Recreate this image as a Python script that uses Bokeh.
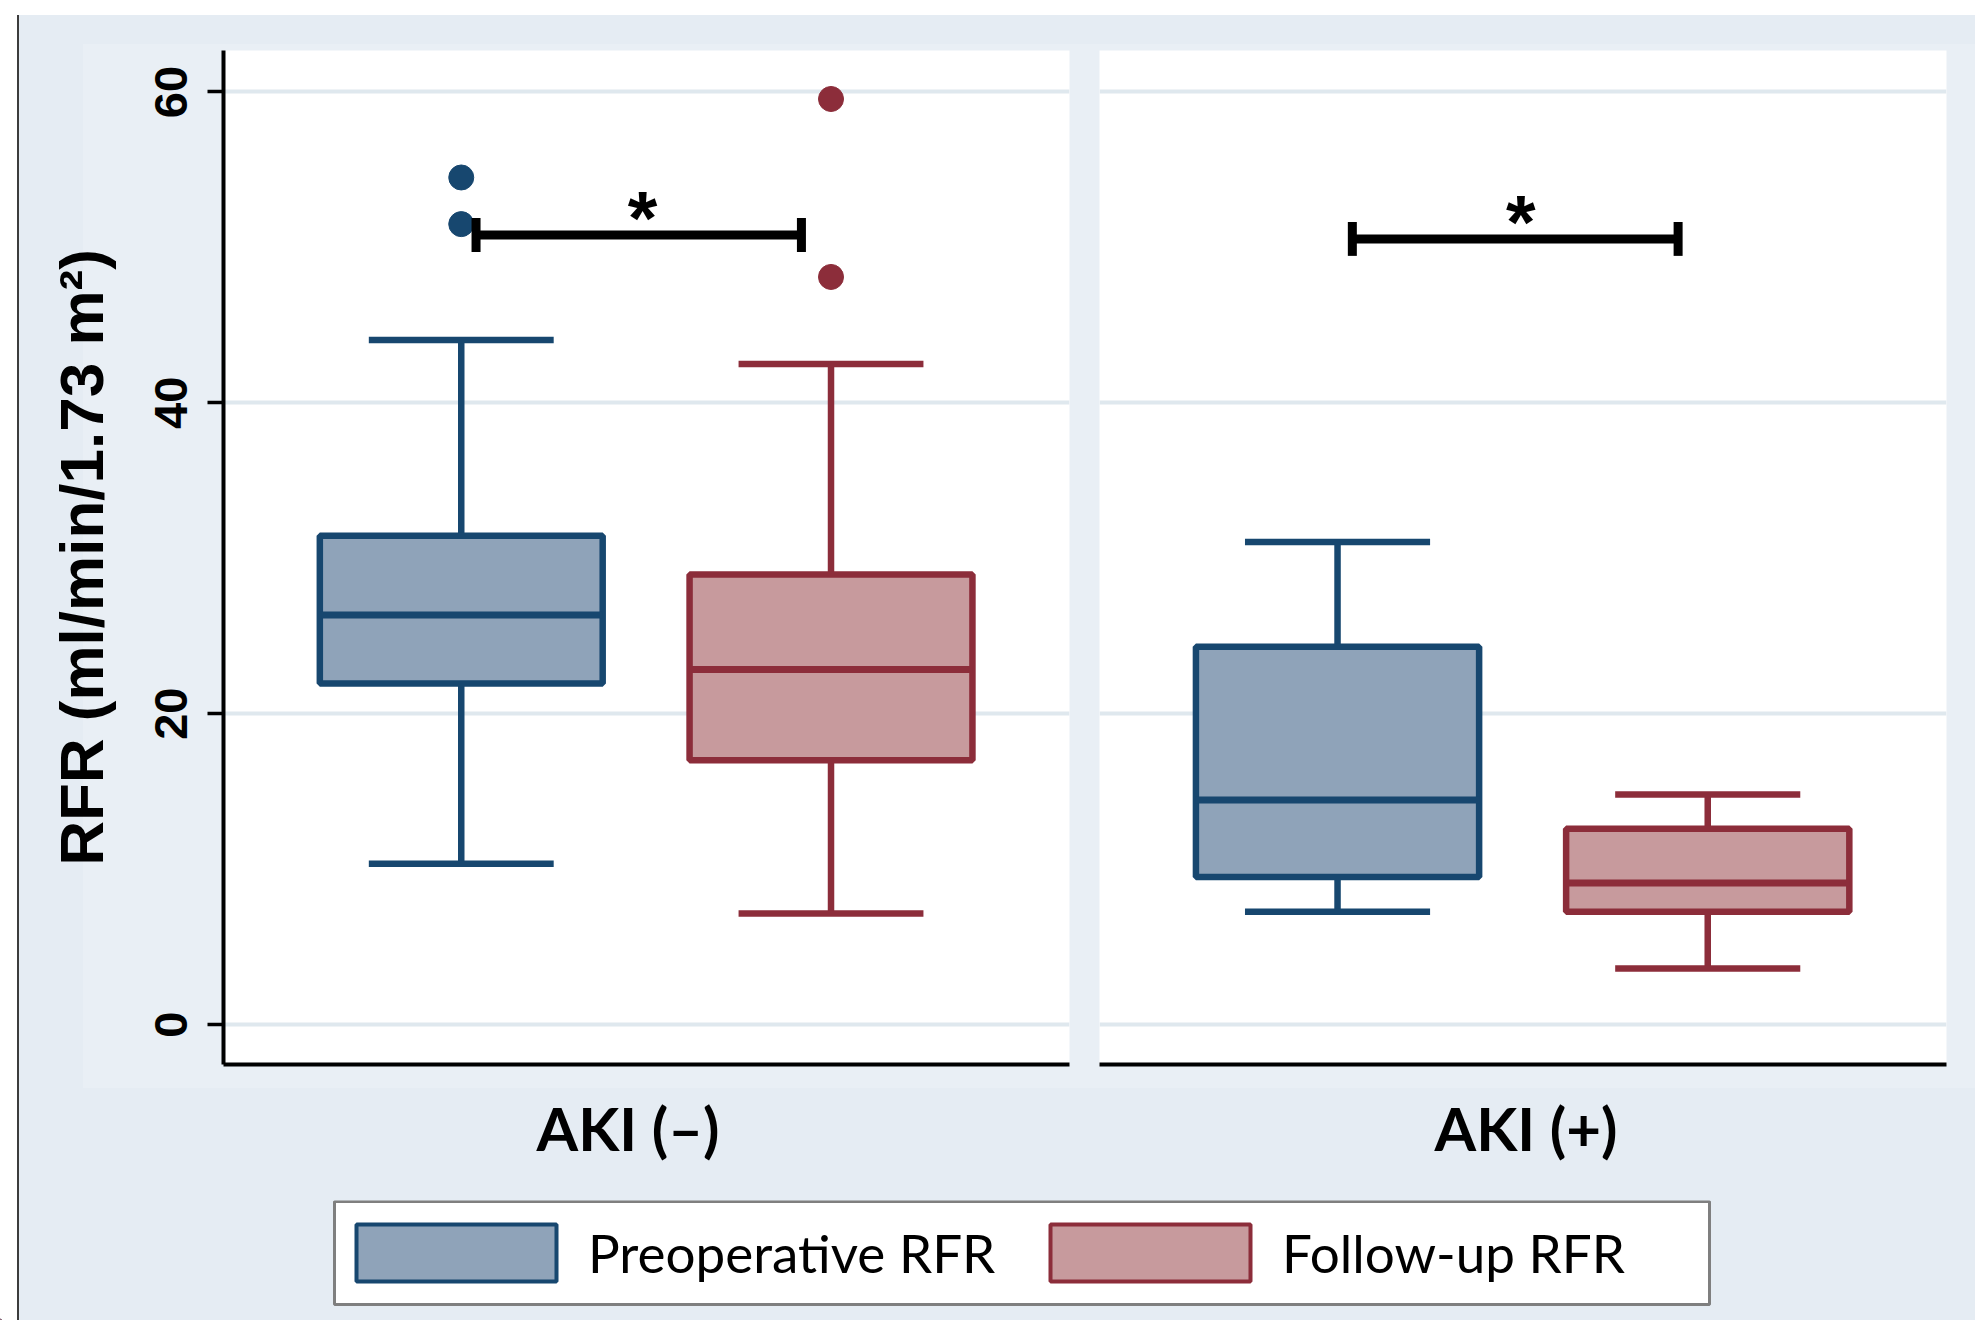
from math import pi
from bokeh.plotting import figure
from bokeh.models import (ColumnDataSource, Range1d, FixedTicker, Legend, LegendItem,
                          Title, BoxAnnotation)
from bokeh.layouts import row, column
from bokeh.core.properties import value
from bokeh.embed import file_html
from bokeh.resources import INLINE

# ---------------- data ----------------
groups = ["AKI (–)", "AKI (+)"]
series = ["Preoperative RFR", "Follow-up RFR"]
positions = [0, 1]            # Preoperative, Follow-up inside each panel

pre_lower  = [10.35, 7.25]
pre_q1     = [21.95, 9.5]
pre_median = [26.35, 14.45]
pre_q3     = [31.45, 24.3]
pre_upper  = [44.05, 31.05]
pre_outliers = [[54.5, 51.5], []]

fu_lower  = [7.15, 3.6]
fu_q1     = [17.0, 7.25]
fu_median = [22.85, 9.1]
fu_q3     = [28.95, 12.6]
fu_upper  = [42.5, 14.8]
fu_outliers = [[59.55, 48.1], []]

sig_left  = [0.04, 0.04]
sig_right = [0.92, 0.92]
sig_y     = [50.8, 50.55]
sig_mid   = [0.49, 0.495]
sig_text  = ["*", "*"]

y_ticks = [0, 20, 40, 60]
y_label = "RFR (ml/min/1.73 m²)"

# ---------------- style ----------------
PRE_FILL, PRE_LINE = "#8fa3b9", "#17476f"
FU_FILL, FU_LINE = "#c79a9d", "#8c2d3a"
BG_OUT = "#e5ecf3"
BG_IN = "#e9eff5"
GRID = "#dfe8ee"
BOX_W = 0.765
CAP_W = 0.50
LW = 6.5
X_LO, X_HI = -0.643, 1.645
Y_LO, Y_HI = -2.57, 62.67
GROUP_OFFSET = [313, 335]


def make_panel(i, left):
    kw = dict(frame_width=846 if left else 847, frame_height=1014,
              min_border_top=50, min_border_bottom=136,
              x_range=Range1d(X_LO, X_HI), y_range=Range1d(Y_LO, Y_HI),
              output_backend="svg", toolbar_location=None, tools="")
    if left:
        p = figure(min_border_left=223, min_border_right=15, **kw)
    else:
        p = figure(min_border_left=15, min_border_right=29, y_axis_location=None, **kw)
    p.background_fill_color = "white"
    p.border_fill_alpha = 0
    p.outline_line_color = None

    p.xgrid.visible = False
    p.ygrid.ticker = FixedTicker(ticks=y_ticks)
    p.ygrid.grid_line_color = GRID
    p.ygrid.grid_line_width = 4

    xa = p.xaxis[0]
    xa.ticker = FixedTicker(ticks=[])
    xa.axis_line_color = "black"
    xa.axis_line_width = 4
    xa.major_tick_line_color = None
    xa.minor_tick_line_color = None
    xa.major_label_text_font_size = "0px"

    p.add_layout(Title(text=groups[i], align="left", offset=GROUP_OFFSET[i],
                       text_font="Lato", text_font_style="bold",
                       text_font_size="60px", text_color="black", standoff=51), "below")

    if left:
        ya = p.yaxis[0]
        ya.ticker = FixedTicker(ticks=y_ticks)
        ya.axis_line_color = "black"
        ya.axis_line_width = 4
        ya.major_tick_line_color = "black"
        ya.major_tick_line_width = 3.5
        ya.major_tick_out = 16
        ya.major_tick_in = 0
        ya.minor_tick_line_color = None
        ya.major_label_orientation = "vertical"
        ya.major_label_text_font = "Liberation Sans"
        ya.major_label_text_font_style = "bold"
        ya.major_label_text_font_size = "47px"
        ya.major_label_text_color = "black"
        ya.major_label_standoff = 20
        ya.axis_label = y_label
        ya.axis_label_text_font = "Liberation Sans"
        ya.axis_label_text_font_style = "bold"
        ya.axis_label_text_font_size = "62px"
        ya.axis_label_text_color = "black"
        ya.axis_label_standoff = 37

    src = ColumnDataSource(dict(
        x=positions,
        lo=[pre_lower[i], fu_lower[i]],
        q1=[pre_q1[i], fu_q1[i]],
        med=[pre_median[i], fu_median[i]],
        q3=[pre_q3[i], fu_q3[i]],
        hi=[pre_upper[i], fu_upper[i]],
        box_l=[x - BOX_W / 2 for x in positions],
        box_r=[x + BOX_W / 2 for x in positions],
        cap_l=[x - CAP_W / 2 for x in positions],
        cap_r=[x + CAP_W / 2 for x in positions],
        fill=[PRE_FILL, FU_FILL],
        line=[PRE_LINE, FU_LINE],
    ))
    p.segment(x0="x", y0="q3", x1="x", y1="hi", line_color="line", line_width=LW, source=src)
    p.segment(x0="x", y0="q1", x1="x", y1="lo", line_color="line", line_width=LW, source=src)
    p.segment(x0="cap_l", y0="hi", x1="cap_r", y1="hi", line_color="line", line_width=LW, source=src)
    p.segment(x0="cap_l", y0="lo", x1="cap_r", y1="lo", line_color="line", line_width=LW, source=src)
    p.vbar(x="x", width=BOX_W, top="q3", bottom="q1", fill_color="fill",
           line_color="line", line_width=LW, source=src)
    p.segment(x0="box_l", y0="med", x1="box_r", y1="med", line_color="line",
              line_width=7, source=src)
    ox, oy, oc = [], [], []
    for v in pre_outliers[i]:
        ox.append(positions[0]); oy.append(v); oc.append(PRE_LINE)
    for v in fu_outliers[i]:
        ox.append(positions[1]); oy.append(v); oc.append(FU_LINE)
    if ox:
        p.scatter(x=ox, y=oy, size=25, fill_color=oc, line_color=oc, marker="circle")
    p.segment(x0=[sig_left[i]], y0=[sig_y[i]], x1=[sig_right[i]], y1=[sig_y[i]],
              line_color="black", line_width=9)
    p.scatter(x=[sig_left[i], sig_right[i]], y=[sig_y[i], sig_y[i]], marker="dash",
              angle=pi / 2, size=34, line_color="black", line_width=9)
    p.text(x=[sig_mid[i]], y=[sig_y[i]], text=[sig_text[i]],
           text_font=value("Liberation Sans"), text_font_style="bold",
           text_font_size="76px", text_align="center", text_baseline="middle",
           y_offset=-17, text_color="black")
    return p


p1 = make_panel(0, True)
p2 = make_panel(1, False)

# legend strip: its glyphs lie far outside its ranges; only the legend is seen
p3 = figure(frame_width=1975, frame_height=120, min_border=0,
            x_range=Range1d(10, 11), y_range=Range1d(100, 101),
            x_axis_location=None, y_axis_location=None,
            output_backend="svg", toolbar_location=None, tools="")
p3.background_fill_alpha = 0
p3.border_fill_alpha = 0
p3.outline_line_color = None
p3.grid.visible = False
r_pre = p3.vbar(x=[positions[0]], top=[pre_q3[0]], bottom=[pre_q1[0]], width=BOX_W,
                fill_color=PRE_FILL, line_color=PRE_LINE, line_width=4)
r_fu = p3.vbar(x=[positions[1]], top=[fu_q3[0]], bottom=[fu_q1[0]], width=BOX_W,
               fill_color=FU_FILL, line_color=FU_LINE, line_width=4)
legend_box = BoxAnnotation(left=334, right=1709, bottom=16, top=119,
                           left_units="screen", right_units="screen",
                           bottom_units="screen", top_units="screen",
                           fill_color="white", fill_alpha=1.0,
                           line_color="#7f7f7f", line_width=3, line_alpha=1.0)
p3.add_layout(legend_box)
legend = Legend(items=[LegendItem(label=series[0], renderers=[r_pre]),
                       LegendItem(label=series[1], renderers=[r_fu])],
                location=(331, 32), orientation="horizontal", margin=0,
                padding=0, spacing=24, label_standoff=7,
                glyph_width=250, glyph_height=71, label_width=413,
                label_text_font="Lato", label_text_font_size="53px",
                label_text_color="black",
                border_line_color=None, background_fill_alpha=0)
p3.add_layout(legend, "center")

bg_css = ("linear-gradient(#ffffff, #ffffff) 0px 0px / 100% 15px no-repeat, "
          "linear-gradient(#ffffff, #ffffff) 0px 0px / 17px 100% no-repeat, "
          "linear-gradient(#3c3c3c, #3c3c3c) 17px 15px / 2px 100% no-repeat, "
          f"linear-gradient({BG_IN}, {BG_IN}) 83px 44px / 1896px 1044px no-repeat, {BG_OUT}")
layout = column(row(p1, p2), p3, styles={"background": bg_css})

open("out.html", "w").write(file_html(layout, INLINE))
